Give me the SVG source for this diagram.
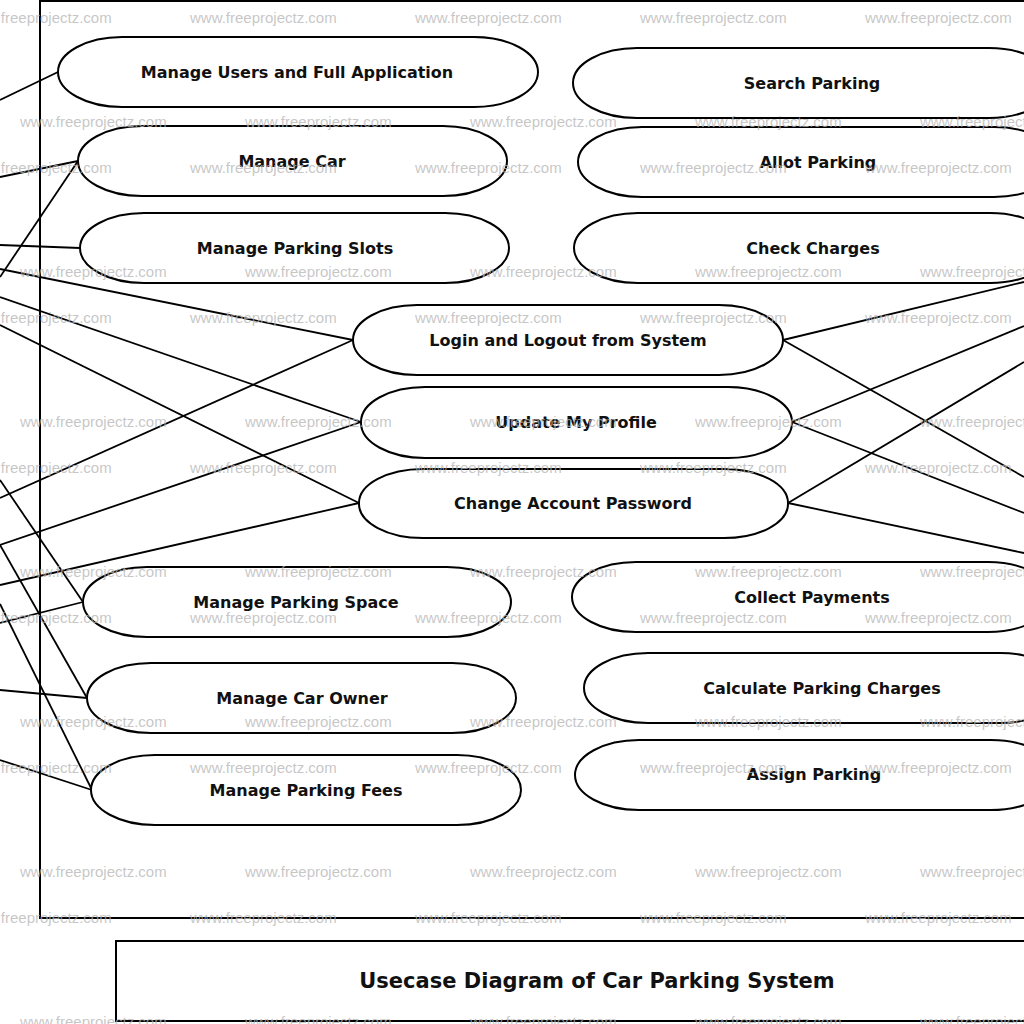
<svg xmlns="http://www.w3.org/2000/svg" width="1024" height="1024" viewBox="0 0 1024 1024">
<style>
.uc{fill:#fff;stroke:#000;stroke-width:2}
.lbl{font-family:"DejaVu Sans","Liberation Sans",sans-serif;font-weight:bold;font-size:16px;fill:#111;text-anchor:middle}
.ttl{font-family:"DejaVu Sans","Liberation Sans",sans-serif;font-weight:bold;font-size:21px;fill:#111;text-anchor:middle}
.cn line{stroke:#000;stroke-width:1.8}
.wm{font-family:"Liberation Sans",Arial,sans-serif;font-size:15px;fill:#b4b4b4;fill-opacity:0.75}
</style>
<rect width="1024" height="1024" fill="#fff"/>
<rect id="system-boundary" x="40" y="1" width="1010" height="917" fill="none" stroke="#000" stroke-width="2"/>
<g id="connectors" class="cn">
<line x1="0" y1="100" x2="58" y2="72"/>
<line x1="0" y1="177" x2="78" y2="161"/>
<line x1="0" y1="277" x2="78" y2="161"/>
<line x1="0" y1="245" x2="80" y2="248"/>
<line x1="0" y1="269" x2="353" y2="340"/>
<line x1="0" y1="297" x2="361" y2="422"/>
<line x1="0" y1="325" x2="359" y2="503"/>
<line x1="0" y1="498" x2="353" y2="340"/>
<line x1="0" y1="545" x2="361" y2="422"/>
<line x1="0" y1="585" x2="359" y2="503"/>
<line x1="0" y1="480" x2="83" y2="602"/>
<line x1="0" y1="623" x2="83" y2="602"/>
<line x1="0" y1="545" x2="87" y2="698"/>
<line x1="0" y1="690" x2="87" y2="698"/>
<line x1="0" y1="604" x2="92" y2="790"/>
<line x1="0" y1="760" x2="92" y2="790"/>
<line x1="783" y1="340" x2="1024" y2="282"/>
<line x1="783" y1="340" x2="1024" y2="477"/>
<line x1="792" y1="422" x2="1024" y2="326"/>
<line x1="792" y1="422" x2="1024" y2="513"/>
<line x1="788" y1="503" x2="1024" y2="362"/>
<line x1="788" y1="503" x2="1024" y2="553"/>
</g>
<g id="uc-manage-users"><rect class="uc" x="58" y="37" width="480" height="70" rx="64" ry="35"/><text class="lbl" x="297" y="78">Manage Users and Full Application</text></g>
<g id="uc-manage-car"><rect class="uc" x="78" y="126" width="429" height="70" rx="64" ry="35"/><text class="lbl" x="292" y="167">Manage Car</text></g>
<g id="uc-manage-parking-slots"><rect class="uc" x="80" y="213" width="429" height="70" rx="64" ry="35"/><text class="lbl" x="295" y="254">Manage Parking Slots</text></g>
<g id="uc-login"><rect class="uc" x="353" y="305" width="430" height="70" rx="64" ry="35"/><text class="lbl" x="568" y="346">Login and Logout from System</text></g>
<g id="uc-update-profile"><rect class="uc" x="361" y="387" width="431" height="71" rx="64" ry="35"/><text class="lbl" x="576" y="428">Update My Profile</text></g>
<g id="uc-change-password"><rect class="uc" x="359" y="469" width="429" height="69" rx="64" ry="34"/><text class="lbl" x="573" y="509">Change Account Password</text></g>
<g id="uc-manage-parking-space"><rect class="uc" x="83" y="567" width="428" height="70" rx="64" ry="35"/><text class="lbl" x="296" y="608">Manage Parking Space</text></g>
<g id="uc-manage-car-owner"><rect class="uc" x="87" y="663" width="429" height="70" rx="64" ry="35"/><text class="lbl" x="302" y="704">Manage Car Owner</text></g>
<g id="uc-manage-parking-fees"><rect class="uc" x="91" y="755" width="430" height="70" rx="64" ry="35"/><text class="lbl" x="306" y="796">Manage Parking Fees</text></g>
<g id="uc-search-parking"><rect class="uc" x="573" y="48" width="480" height="70" rx="64" ry="35"/><text class="lbl" x="812" y="89">Search Parking</text></g>
<g id="uc-allot-parking"><rect class="uc" x="578" y="127" width="480" height="70" rx="64" ry="35"/><text class="lbl" x="818" y="168">Allot Parking</text></g>
<g id="uc-check-charges"><rect class="uc" x="574" y="213" width="480" height="70" rx="64" ry="35"/><text class="lbl" x="813" y="254">Check Charges</text></g>
<g id="uc-collect-payments"><rect class="uc" x="572" y="562" width="480" height="70" rx="64" ry="35"/><text class="lbl" x="812" y="603">Collect Payments</text></g>
<g id="uc-calculate-charges"><rect class="uc" x="584" y="653" width="480" height="70" rx="64" ry="35"/><text class="lbl" x="822" y="694">Calculate Parking Charges</text></g>
<g id="uc-assign-parking"><rect class="uc" x="575" y="740" width="480" height="70" rx="64" ry="35"/><text class="lbl" x="814" y="780">Assign Parking</text></g>
<g id="title"><rect x="116" y="941" width="940" height="80" fill="#fff" stroke="#000" stroke-width="2"/><text class="ttl" x="597" y="988">Usecase Diagram of Car Parking System</text></g>
<g id="watermarks" class="wm">
<text x="-35" y="23">www.freeprojectz.com</text><text x="190" y="23">www.freeprojectz.com</text><text x="415" y="23">www.freeprojectz.com</text><text x="640" y="23">www.freeprojectz.com</text><text x="865" y="23">www.freeprojectz.com</text>
<text x="20" y="127">www.freeprojectz.com</text><text x="245" y="127">www.freeprojectz.com</text><text x="470" y="127">www.freeprojectz.com</text><text x="695" y="127">www.freeprojectz.com</text><text x="920" y="127">www.freeprojectz.com</text>
<text x="-35" y="173">www.freeprojectz.com</text><text x="190" y="173">www.freeprojectz.com</text><text x="415" y="173">www.freeprojectz.com</text><text x="640" y="173">www.freeprojectz.com</text><text x="865" y="173">www.freeprojectz.com</text>
<text x="20" y="277">www.freeprojectz.com</text><text x="245" y="277">www.freeprojectz.com</text><text x="470" y="277">www.freeprojectz.com</text><text x="695" y="277">www.freeprojectz.com</text><text x="920" y="277">www.freeprojectz.com</text>
<text x="-35" y="323">www.freeprojectz.com</text><text x="190" y="323">www.freeprojectz.com</text><text x="415" y="323">www.freeprojectz.com</text><text x="640" y="323">www.freeprojectz.com</text><text x="865" y="323">www.freeprojectz.com</text>
<text x="20" y="427">www.freeprojectz.com</text><text x="245" y="427">www.freeprojectz.com</text><text x="470" y="427">www.freeprojectz.com</text><text x="695" y="427">www.freeprojectz.com</text><text x="920" y="427">www.freeprojectz.com</text>
<text x="-35" y="473">www.freeprojectz.com</text><text x="190" y="473">www.freeprojectz.com</text><text x="415" y="473">www.freeprojectz.com</text><text x="640" y="473">www.freeprojectz.com</text><text x="865" y="473">www.freeprojectz.com</text>
<text x="20" y="577">www.freeprojectz.com</text><text x="245" y="577">www.freeprojectz.com</text><text x="470" y="577">www.freeprojectz.com</text><text x="695" y="577">www.freeprojectz.com</text><text x="920" y="577">www.freeprojectz.com</text>
<text x="-35" y="623">www.freeprojectz.com</text><text x="190" y="623">www.freeprojectz.com</text><text x="415" y="623">www.freeprojectz.com</text><text x="640" y="623">www.freeprojectz.com</text><text x="865" y="623">www.freeprojectz.com</text>
<text x="20" y="727">www.freeprojectz.com</text><text x="245" y="727">www.freeprojectz.com</text><text x="470" y="727">www.freeprojectz.com</text><text x="695" y="727">www.freeprojectz.com</text><text x="920" y="727">www.freeprojectz.com</text>
<text x="-35" y="773">www.freeprojectz.com</text><text x="190" y="773">www.freeprojectz.com</text><text x="415" y="773">www.freeprojectz.com</text><text x="640" y="773">www.freeprojectz.com</text><text x="865" y="773">www.freeprojectz.com</text>
<text x="20" y="877">www.freeprojectz.com</text><text x="245" y="877">www.freeprojectz.com</text><text x="470" y="877">www.freeprojectz.com</text><text x="695" y="877">www.freeprojectz.com</text><text x="920" y="877">www.freeprojectz.com</text>
<text x="-35" y="923">www.freeprojectz.com</text><text x="190" y="923">www.freeprojectz.com</text><text x="415" y="923">www.freeprojectz.com</text><text x="640" y="923">www.freeprojectz.com</text><text x="865" y="923">www.freeprojectz.com</text>
<text x="20" y="1027">www.freeprojectz.com</text><text x="245" y="1027">www.freeprojectz.com</text><text x="470" y="1027">www.freeprojectz.com</text><text x="695" y="1027">www.freeprojectz.com</text><text x="920" y="1027">www.freeprojectz.com</text>
</g>
</svg>
